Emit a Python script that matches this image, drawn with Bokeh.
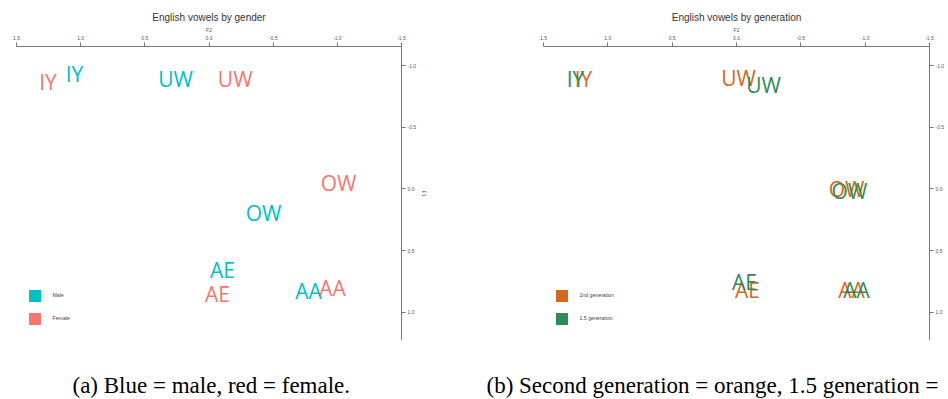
from bokeh.plotting import figure
from bokeh.models import Range1d, FixedTicker, Legend, LegendItem, ColumnDataSource, Label
from bokeh.layouts import row, column
from bokeh.embed import file_html
from bokeh.resources import INLINE
from bokeh.core.properties import value

# ---- data (normalised formants) ----
vowels = ["IY", "UW", "OW", "AE", "AA"]

male_f2 = [1.048, 0.261, -0.425, -0.105, -0.776]
male_f1 = [-0.933, -0.892, 0.198, 0.656, 0.830]
female_f2 = [1.255, -0.204, -1.009, -0.066, -0.963]
female_f1 = [-0.870, -0.887, -0.045, 0.854, 0.803]

gen2_f2 = [1.189, -0.016, -0.855, -0.085, -0.894]
gen2_f1 = [-0.887, -0.895, 0.004, 0.822, 0.814]
gen15_f2 = [1.251, -0.210, -0.878, -0.062, -0.932]
gen15_f1 = [-0.887, -0.846, 0.020, 0.757, 0.814]

x_ticks = [1.5, 1.0, 0.5, 0.0, -0.5, -1.0, -1.5]
x_tick_labels = ["1.5", "1.0", "0.5", "0.0", "-0.5", "-1.0", "-1.5"]
y_ticks = [-1.0, -0.5, 0.0, 0.5, 1.0]
y_tick_labels = ["-1.0", "-0.5", "0.0", "0.5", "1.0"]

captions = ["(a) Blue = male, red = female.",
            "(b) Second generation = orange, 1.5 generation ="]

AXIS_COLOR = "#777777"
LABEL_COLOR = "#555555"
NAN = float("nan")


def make_panel(title, series, width, border_left, border_right, show_f1):
    p = figure(width=width, height=340, output_backend="svg", toolbar_location=None,
               x_range=Range1d(1.5, -1.5), y_range=Range1d(1.227, -1.154),
               x_axis_location="above", y_axis_location="right",
               min_border_left=border_left, min_border_right=border_right,
               min_border_top=46, min_border_bottom=0)
    p.outline_line_color = None
    p.xgrid.visible = False
    p.ygrid.visible = False
    p.background_fill_color = "white"
    p.border_fill_color = "white"

    p.title.text = title
    p.title.align = "center"
    p.title.text_font = "Liberation Sans"
    p.title.text_font_size = "10px"
    p.title.text_font_style = "normal"
    p.title.text_color = "#333333"
    p.title.standoff = 2

    xa = p.xaxis[0]
    xa.ticker = FixedTicker(ticks=x_ticks)
    xa.major_label_overrides = dict(zip(x_ticks, x_tick_labels))
    xa.axis_label = "F2"
    ya = p.yaxis[0]
    ya.ticker = FixedTicker(ticks=y_ticks)
    ya.major_label_overrides = dict(zip(y_ticks, y_tick_labels))
    ya.axis_label = "F1" if show_f1 else None
    for ax in (xa, ya):
        ax.axis_line_color = AXIS_COLOR
        ax.major_tick_line_color = AXIS_COLOR
        ax.major_tick_in = 0
        ax.major_tick_out = 4
        ax.minor_tick_line_color = None
        ax.major_label_text_font = "Liberation Sans"
        ax.major_label_text_font_size = "5px"
        ax.major_label_text_color = LABEL_COLOR
        ax.major_label_standoff = 2
        ax.axis_label_text_font = "Liberation Sans"
        ax.axis_label_text_font_size = "5px"
        ax.axis_label_text_font_style = "normal"
        ax.axis_label_text_color = LABEL_COLOR
        ax.axis_label_standoff = 2
    xa.major_label_standoff = 3
    xa.axis_label_standoff = 0

    items = []
    for name, f2, f1, color in series:
        src = ColumnDataSource(dict(x=f2, y=f1, t=vowels))
        p.text(x="x", y="y", text="t", source=src, text_color=color,
               text_font=value("Open Sans"), text_font_size="21px",
               text_align="center", text_baseline="middle")
        dummy = p.quad(left=[NAN], right=[NAN], top=[NAN], bottom=[NAN],
                       fill_color=color, line_color=None)
        items.append(LegendItem(label=name, renderers=[dummy]))

    leg = Legend(items=items, location=(10.5, 14.5), orientation="vertical",
                 glyph_width=15, glyph_height=15, spacing=8, padding=0, margin=0,
                 label_standoff=11, label_text_font="Liberation Sans",
                 label_text_font_size="5.2px", label_text_color="#444444",
                 border_line_color=None, background_fill_alpha=0)
    p.add_layout(leg, "center")
    return p


p1 = make_panel("English vowels by gender",
                [("Male", male_f2, male_f1, "#00BFC4"),
                 ("Female", female_f2, female_f1, "#F8766D")],
                484, 16, 83, True)
p2 = make_panel("English vowels by generation",
                [("2nd generation", gen2_f2, gen2_f1, "#D2691E"),
                 ("1.5 generation", gen15_f2, gen15_f1, "#2E8B57")],
                464, 59, 19, False)

# caption strip below both panels
cap = figure(width=948, height=59, output_backend="svg", toolbar_location=None,
             x_range=Range1d(0, 1), y_range=Range1d(0, 1),
             x_axis_location=None, y_axis_location=None, min_border=0)
cap.outline_line_color = None
cap.xgrid.visible = False
cap.ygrid.visible = False
for text, sx in zip(captions, [72, 486]):
    cap.add_layout(Label(x=sx, y=14, x_units="screen", y_units="screen", text=text,
                         text_font="Liberation Serif", text_font_size="23px",
                         text_color="black", text_align="left",
                         text_baseline="alphabetic"))

layout = column(row(p1, p2), cap)
open("out.html", "w").write(file_html(layout, INLINE))
